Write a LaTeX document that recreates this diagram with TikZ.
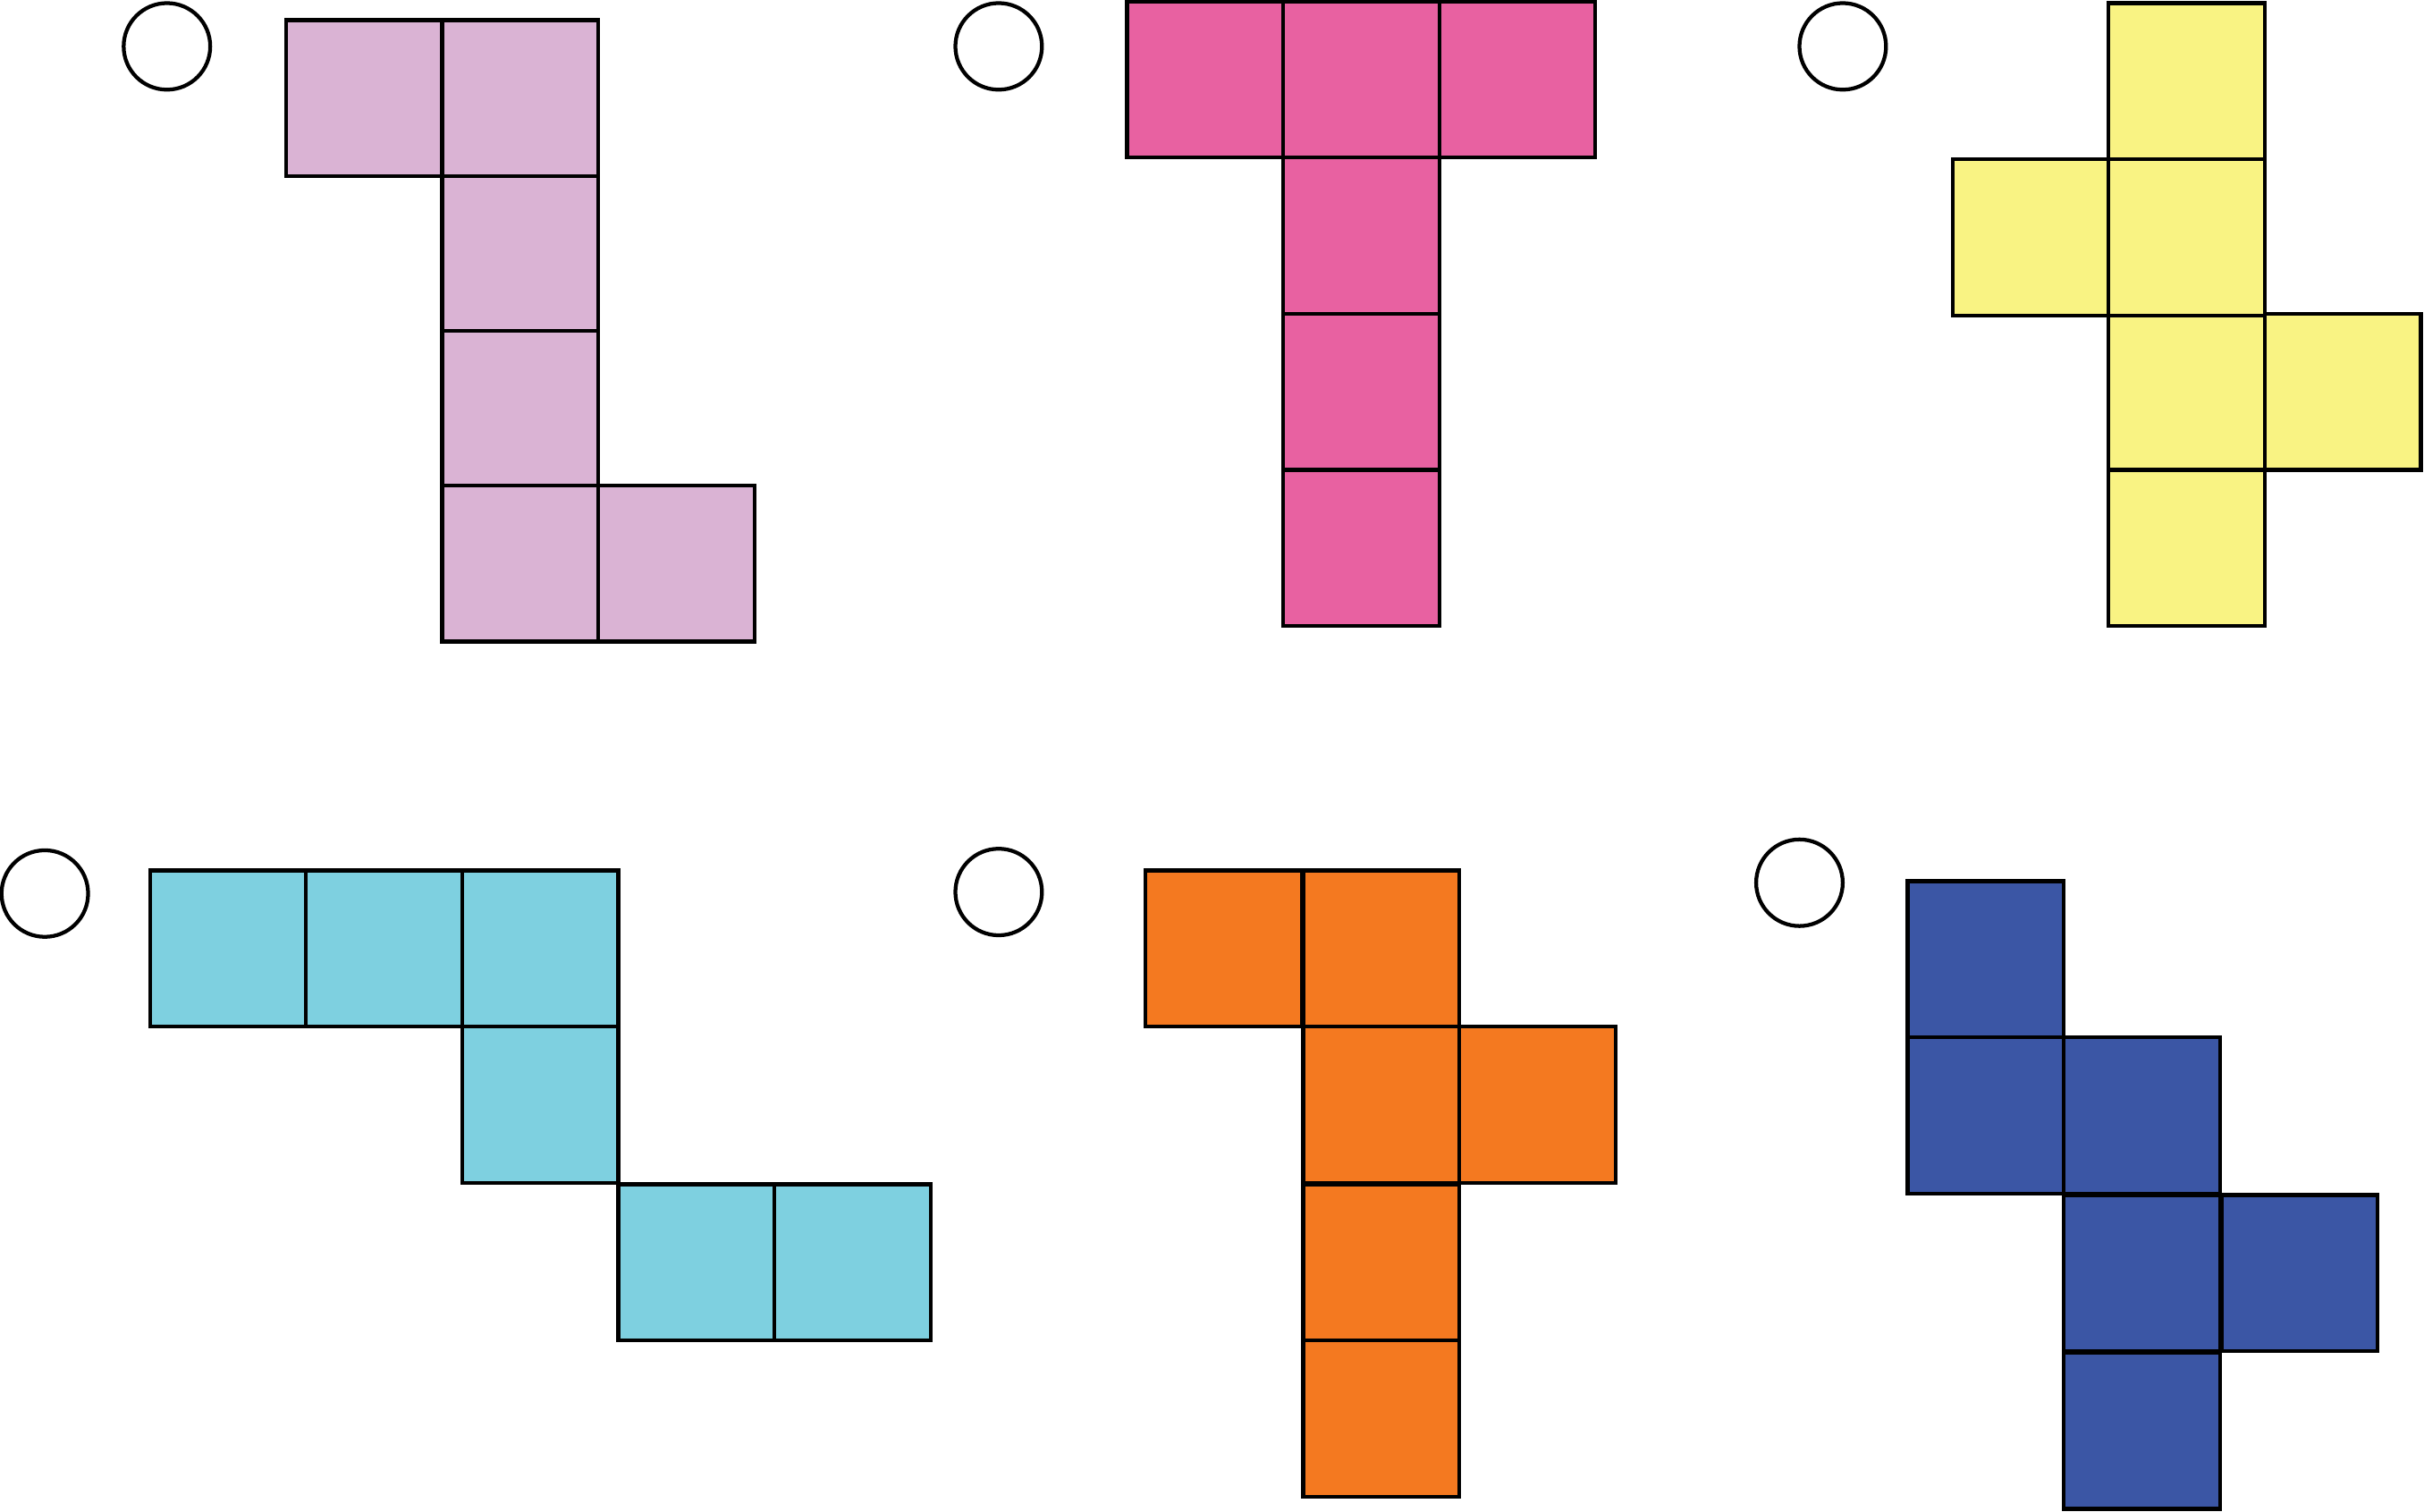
\documentclass[tikz,border=0pt]{standalone}
\begin{document}
\begin{tikzpicture}[x=0.01cm,y=-0.01cm,
  cell/.style={draw=black,line width=0.7pt},
  ring/.style={draw=black,line width=0.7pt,fill=white}]
\definecolor{pinkA}{HTML}{DAB3D4}
\definecolor{magA}{HTML}{E861A1}
\definecolor{yelA}{HTML}{F9F383}
\definecolor{cyaA}{HTML}{7ED0E0}
\definecolor{oraA}{HTML}{F47920}
\definecolor{bluA}{HTML}{3B56A5}
\useasboundingbox (0,0) rectangle (1568,978);
% pink
\draw[ring] (108,30) circle (28);
\foreach \a/\b in {185/13,286/13,286/114,286/214,286/314,387/314}
  \draw[cell,fill=pinkA] (\a,\b) rectangle ++(101,101);
% magenta
\draw[ring] (646,30) circle (28);
\foreach \a/\b in {729/1,830/1,931/1,830/102,830/203,830/304}
  \draw[cell,fill=magA] (\a,\b) rectangle ++(101,101);
% yellow
\draw[ring] (1192,30) circle (28);
\foreach \a/\b in {1364/2,1364/103,1263/103,1364/204,1465/203,1364/304}
  \draw[cell,fill=yelA] (\a,\b) rectangle ++(101,101);
% cyan
\draw[ring] (29,578) circle (28);
\foreach \a/\b in {97/563,198/563,299/563,299/664,400/766,501/766}
  \draw[cell,fill=cyaA] (\a,\b) rectangle ++(101,101);
% orange
\draw[ring] (646,577) circle (28);
\foreach \a/\b in {741/563,843/563,843/664,944/664,843/766,843/867}
  \draw[cell,fill=oraA] (\a,\b) rectangle ++(101,101);
% blue
\draw[ring] (1164,571) circle (28);
\foreach \a/\b in {1234/570,1234/671,1335/671,1335/773,1437/773,1335/875}
  \draw[cell,fill=bluA] (\a,\b) rectangle ++(101,101);
\end{tikzpicture}
\end{document}
